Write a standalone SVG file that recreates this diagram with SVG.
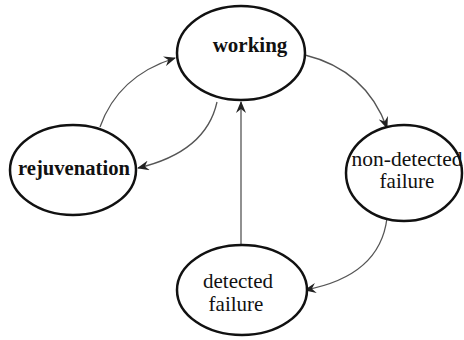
<svg xmlns="http://www.w3.org/2000/svg" width="464" height="340" viewBox="0 0 464 340">
<style>
.node{fill:#fff;stroke:#111;stroke-width:2.5}
.edge{fill:none;stroke:#555;stroke-width:1.3}
.t{font-family:'Liberation Serif','Times New Roman',Tinos,'DejaVu Serif',serif;font-size:20px;fill:#111;text-anchor:middle}
.b{font-weight:bold;font-size:21px}
.l{font-size:21px}
</style>
<defs>
<marker id="arr" viewBox="0 0 12 10" refX="11" refY="5" markerWidth="12" markerHeight="10" markerUnits="userSpaceOnUse" orient="auto">
<path d="M0,0 L12,5 L0,10 L4,5 Z" fill="#222"/>
</marker>
</defs>
<rect width="464" height="340" fill="#fff"/>
<g id="connectors">
<path class="edge" d="M100,127 Q118,76 175,58" marker-end="url(#arr)"/>
<path class="edge" d="M217,102 Q206,152 138,168" marker-end="url(#arr)"/>
<path class="edge" d="M305,55 Q366,70 387,128" marker-end="url(#arr)"/>
<path class="edge" d="M387,218 Q380,276 305,290" marker-end="url(#arr)"/>
<path class="edge" d="M241,245 L241,102" marker-end="url(#arr)"/>
</g>
<g id="working">
<ellipse class="node" cx="241" cy="53" rx="64" ry="47"/>
<text class="t b" x="250" y="52">working</text>
</g>
<g id="rejuvenation">
<ellipse class="node" cx="73" cy="170" rx="63" ry="45"/>
<text class="t b" x="74" y="175" textLength="112" lengthAdjust="spacingAndGlyphs">rejuvenation</text>
</g>
<g id="non-detected">
<ellipse class="node" cx="404" cy="173" rx="58" ry="48"/>
<text class="t" x="407" y="166" textLength="111" lengthAdjust="spacingAndGlyphs">non-detected</text>
<text class="t l" x="407" y="188">failure</text>
</g>
<g id="detected">
<ellipse class="node" cx="242" cy="290" rx="65" ry="45"/>
<text class="t l" x="238" y="288">detected</text>
<text class="t l" x="236" y="311">failure</text>
</g>
</svg>
